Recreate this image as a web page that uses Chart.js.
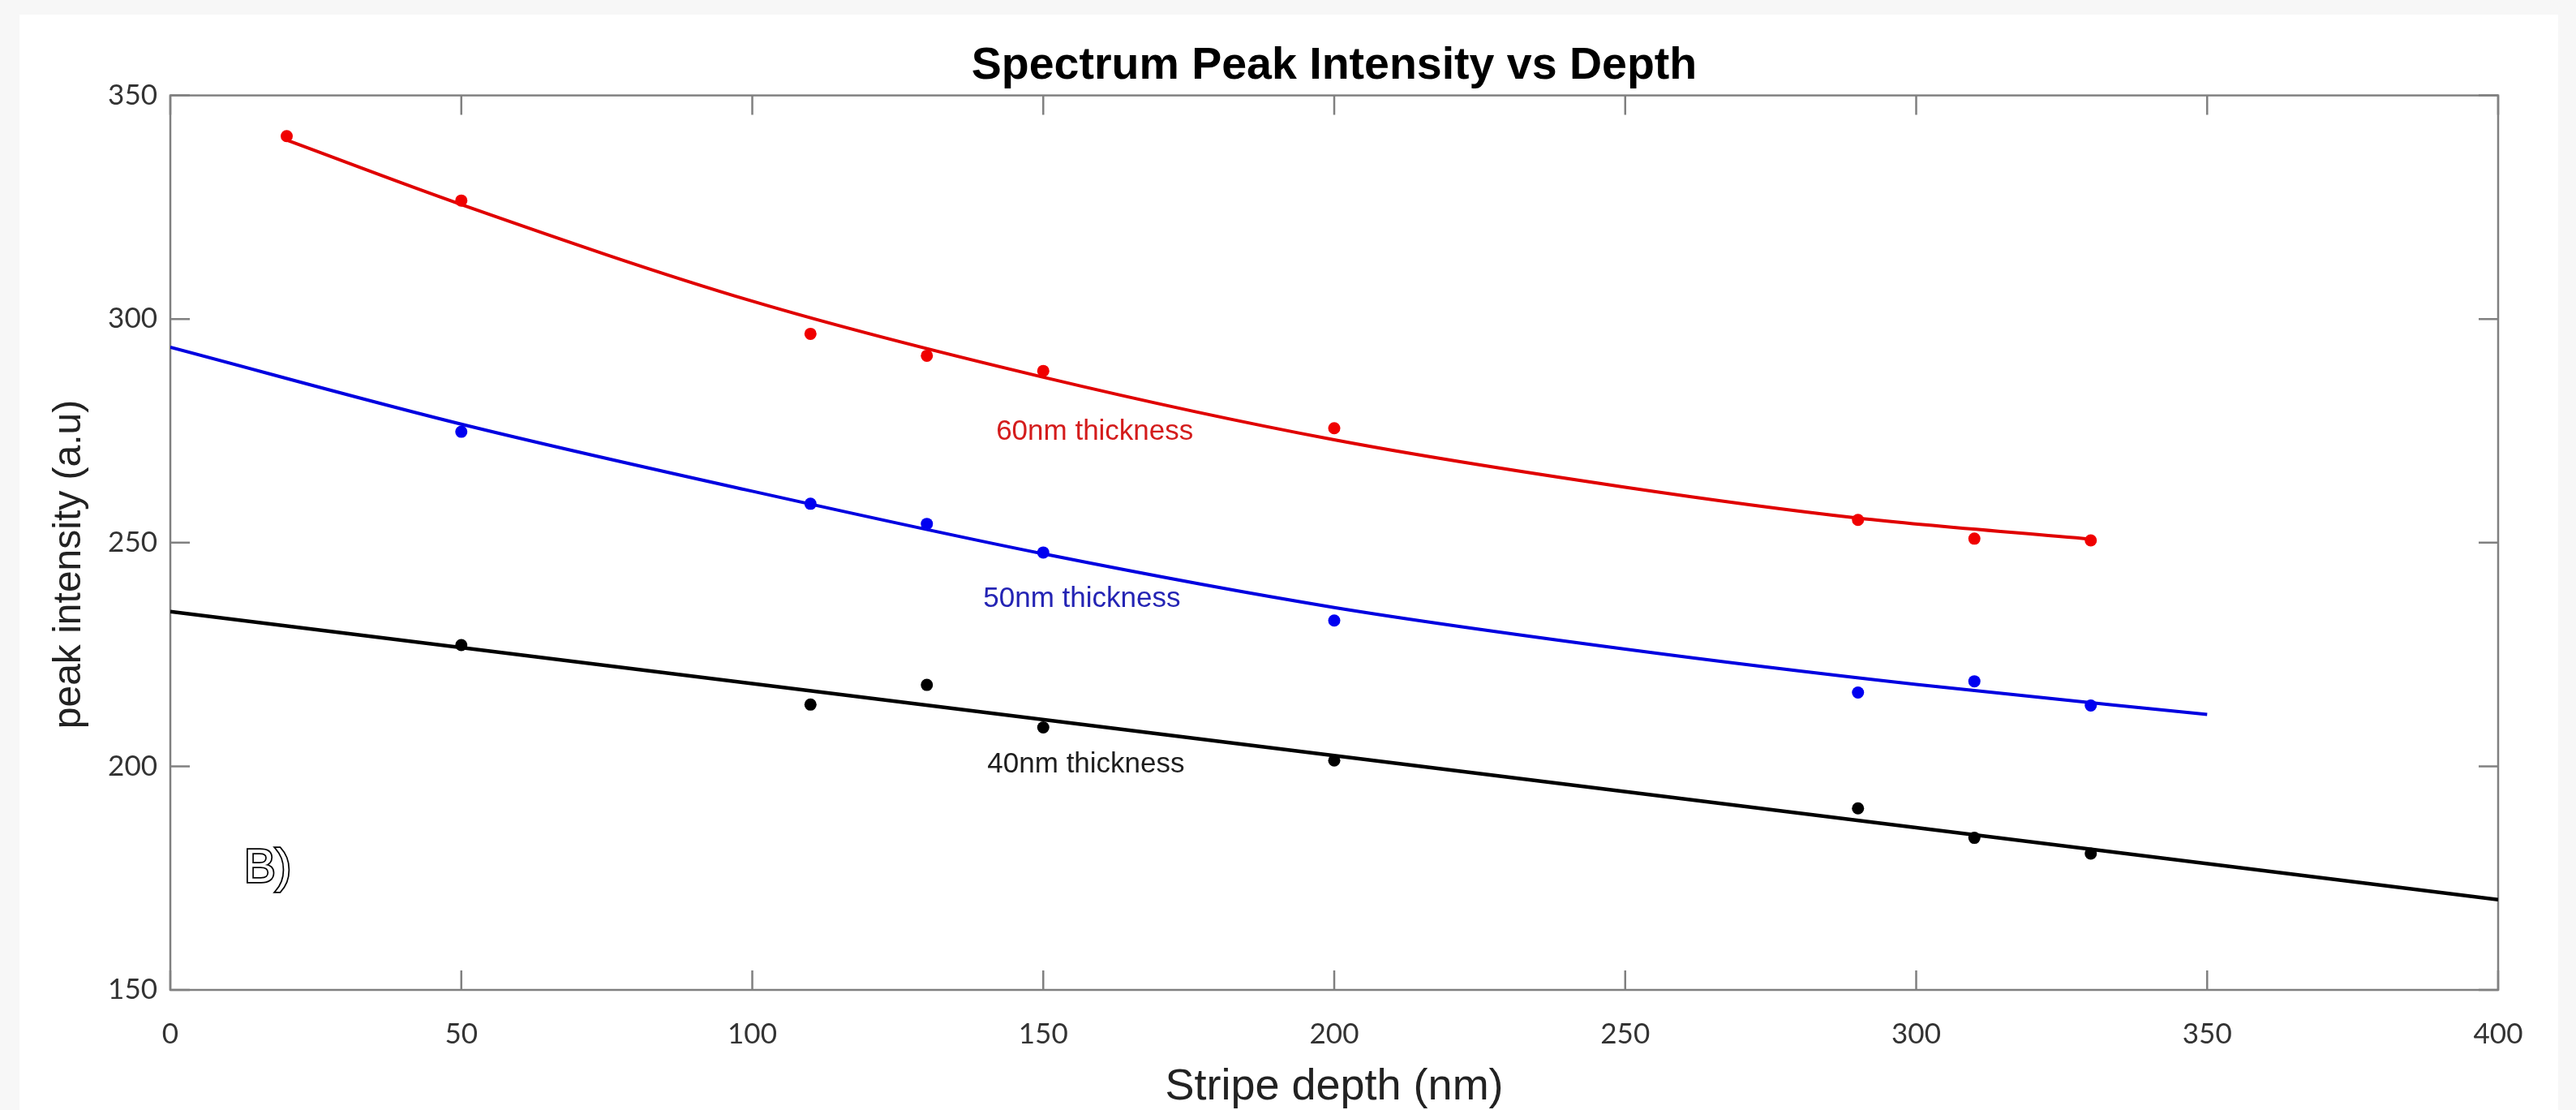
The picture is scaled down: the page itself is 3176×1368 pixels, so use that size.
<!DOCTYPE html>
<html lang="en">
<head>
  <meta charset="UTF-8">
  <title>Spectrum Peak Intensity vs Depth</title>
  <script src="https://cdn.jsdelivr.net/npm/chart.js"></script>
  <style>
    html, body { margin: 0; padding: 0; background: #f7f7f7; }
    #wrap { width: 3176px; height: 1368px; }
  </style>
</head>
<body>
  <div id="wrap"><canvas id="chart" width="3176" height="1368"></canvas></div>

  <script>
    // measured points (stripe depth in nm, peak intensity in a.u.)
    const depth60 = [20, 50, 110, 130, 150, 200, 290, 310, 330];
    const peak60  = [340.9, 326.5, 296.7, 291.8, 288.4, 275.6, 255.1, 250.9, 250.5];
    const depth50 = [50, 110, 130, 150, 200, 290, 310, 330];
    const peak50  = [274.8, 258.7, 254.2, 247.8, 232.6, 216.5, 219.0, 213.6];
    const depth40 = [50, 110, 130, 150, 200, 290, 310, 330];
    const peak40  = [227.1, 213.8, 218.2, 208.7, 201.3, 190.6, 184.0, 180.5];

    // fitted curves
    const fit60X = [20, 50, 100, 150, 200, 250, 290, 330];
    const fit60Y = [340.0, 325.6, 304.0, 287.0, 273.0, 262.4, 255.5, 250.8];
    const fit50X = [0, 50, 100, 150, 200, 250, 300, 350];
    const fit50Y = [293.7, 276.5, 261.5, 247.5, 235.5, 226.2, 218.3, 211.6];
    const fit40X = [0, 400];
    const fit40Y = [234.6, 170.2];

    // in-plot notes
    const noteText  = ['60nm thickness', '50nm thickness', '40nm thickness', 'B)'];
    const noteX     = [141.9, 139.7, 140.4, 12.7];
    const noteY     = [274.7, 237.3, 200.3, 174.1];
    const noteColor = ['#d41c1c', '#2424b4', '#1e1e1e', '#000'];

    const xTicks = [0, 50, 100, 150, 200, 250, 300, 350, 400];
    const yTicks = [150, 200, 250, 300, 350];

    const pts = (xs, ys) => xs.map((x, i) => ({ x: x, y: ys[i] }));

    const fitLine = (xs, ys, color, w) => ({
      data: pts(xs, ys), showLine: true, borderColor: color, borderWidth: w,
      pointRadius: 0, cubicInterpolationMode: 'monotone', fill: false, order: 2
    });
    const dots = (xs, ys, color) => ({
      data: pts(xs, ys), showLine: false, backgroundColor: color, borderColor: color,
      borderWidth: 0, pointRadius: 7.5, order: 1
    });

    // white figure sheet on the grey page
    const sheet = {
      id: 'sheet',
      beforeDraw(chart) {
        const ctx = chart.ctx;
        ctx.save();
        ctx.fillStyle = '#f7f7f7';
        ctx.fillRect(0, 0, chart.width, chart.height);
        ctx.fillStyle = '#fff';
        ctx.fillRect(24, 18, 3130, 1350);
        ctx.restore();
      }
    };

    // axes box with inward ticks on all four sides
    const frame = {
      id: 'frame',
      beforeDatasetsDraw(chart) {
        const { ctx, chartArea: a, scales: { x, y } } = chart;
        const len = 24;
        ctx.save();
        ctx.strokeStyle = '#808080';
        ctx.lineWidth = 2.5;
        ctx.strokeRect(a.left, a.top, a.right - a.left, a.bottom - a.top);
        ctx.beginPath();
        xTicks.forEach(v => {
          const px = x.getPixelForValue(v);
          ctx.moveTo(px, a.bottom); ctx.lineTo(px, a.bottom - len);
          ctx.moveTo(px, a.top);    ctx.lineTo(px, a.top + len);
        });
        yTicks.forEach(v => {
          const py = y.getPixelForValue(v);
          ctx.moveTo(a.left, py);  ctx.lineTo(a.left + len, py);
          ctx.moveTo(a.right, py); ctx.lineTo(a.right - len, py);
        });
        ctx.stroke();
        ctx.restore();
      }
    };

    const notes = {
      id: 'notes',
      afterDatasetsDraw(chart) {
        const { ctx, scales: { x, y } } = chart;
        ctx.save();
        noteText.forEach((t, i) => {
          const px = x.getPixelForValue(noteX[i]);
          const py = y.getPixelForValue(noteY[i]);
          if (t === 'B)') {
            ctx.font = '58px "Liberation Sans"';
            ctx.textBaseline = 'alphabetic';
            ctx.fillStyle = '#fff';
            ctx.strokeStyle = noteColor[i];
            ctx.lineWidth = 3.5;
            ctx.strokeText(t, px, py);
            ctx.fillText(t, px, py);
          } else {
            ctx.font = '35px "Liberation Sans"';
            ctx.textBaseline = 'middle';
            ctx.fillStyle = noteColor[i];
            ctx.fillText(t, px, py);
          }
        });
        ctx.restore();
      }
    };

    new Chart(document.getElementById('chart'), {
      type: 'scatter',
      data: {
        datasets: [
          fitLine(fit60X, fit60Y, '#e00000', 4),
          fitLine(fit50X, fit50Y, '#0000e0', 4),
          fitLine(fit40X, fit40Y, '#000000', 4.5),
          dots(depth60, peak60, '#f00000'),
          dots(depth50, peak50, '#0000f0'),
          dots(depth40, peak40, '#000000')
        ]
      },
      options: {
        responsive: false,
        animation: false,
        layout: { padding: { left: 0, right: 96, top: 0, bottom: 0 } },
        plugins: {
          legend: { display: false },
          tooltip: { enabled: false },
          title: {
            display: true,
            fullSize: false,
            text: 'Spectrum Peak Intensity vs Depth',
            color: '#000',
            font: { family: 'Liberation Sans', size: 55.5, weight: 'bold', lineHeight: 1.2 },
            padding: { top: 48, bottom: 3 }
          }
        },
        scales: {
          x: {
            type: 'linear', min: 0, max: 400,
            ticks: { stepSize: 50, color: '#333', padding: 34, maxRotation: 0,
                     font: { family: 'Lato', size: 35 } },
            grid: { display: false, drawTicks: false },
            border: { display: false },
            title: { display: true, text: 'Stripe depth (nm)', color: '#222',
                     font: { family: 'Liberation Sans', size: 54, lineHeight: 1 },
                     padding: { top: 0, bottom: 1 } },
            afterFit: s => { s.height = 148; }
          },
          y: {
            type: 'linear', min: 150, max: 350,
            ticks: { stepSize: 50, color: '#333', padding: 16,
                     font: { family: 'Lato', size: 35 } },
            grid: { display: false, drawTicks: false },
            border: { display: false },
            title: { display: true, text: 'peak intensity (a.u)\u00a0\u00a0\u00a0\u00a0', color: '#222',
                     font: { family: 'Liberation Sans', size: 48, lineHeight: 1 },
                     padding: { top: 62, bottom: 0 } },
            afterFit: s => { s.width = 210; }
          }
        }
      },
      plugins: [sheet, frame, notes]
    });
  </script>
</body>
</html>
